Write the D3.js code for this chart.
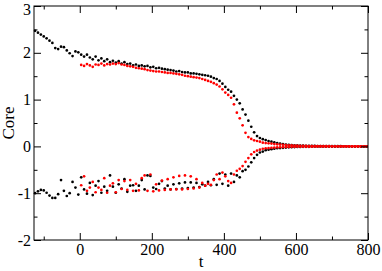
<!DOCTYPE html>
<html>
<head>
<meta charset="utf-8">
<script src="https://cdn.jsdelivr.net/npm/d3@7/dist/d3.min.js"></script>
<style>
  body { margin: 0; background: #fff; }
</style>
</head>
<body>
<script>
// sampling times (black starts before t=0, red starts at t=4)
var blackT = d3.range(-124, 800, 8)
var redT = d3.range(4, 800, 8)

var blackUpper = [2.47, 2.43, 2.39, 2.35, 2.31, 2.26, 2.21, 2.10, 2.08, 2.13, 2.12, 2.05, 1.99, 1.93, 2.03, 2.01,
  1.96, 1.92, 1.96, 1.90, 1.86, 1.92, 1.84, 1.88, 1.82, 1.86, 1.80, 1.83, 1.79, 1.82, 1.77, 1.80,
  1.76, 1.77, 1.73, 1.75, 1.72, 1.73, 1.71, 1.72, 1.69, 1.70, 1.67, 1.68, 1.66, 1.65, 1.64, 1.63,
  1.62, 1.60, 1.61, 1.59, 1.58, 1.58, 1.56, 1.56, 1.55, 1.54, 1.53, 1.52, 1.51, 1.49, 1.46, 1.44,
  1.40, 1.34, 1.27, 1.21, 1.17, 1.08, 1.00, 0.92, 0.79, 0.68, 0.55, 0.42, 0.30, 0.22, 0.18, 0.155,
  0.135, 0.115, 0.10, 0.085, 0.07, 0.06, 0.05, 0.04, 0.035, 0.03, 0.025, 0.02, 0.018, 0.015, 0.013, 0.012,
  0.01, 0.01, 0.008, 0.008, 0.007, 0.006, 0.006, 0.005, 0.005, 0.004, 0.004, 0.003, 0.003, 0.003, 0.002, 0.002,
  0.002, 0.002, 0.001, 0.001]

var blackLower = [-1.00, -0.96, -0.93, -0.94, -0.99, -1.05, -1.10, -1.10, -1.02, -0.72, -0.95, -1.06, -1.00, -0.76, -0.88, -1.03,
  -0.66, -0.92, -1.01, -0.78, -1.04, -0.84, -0.74, -0.99, -0.86, -0.95, -0.62, -0.86, -0.99, -0.81, -0.90, -0.70,
  -0.97, -0.84, -0.83, -0.95, -0.84, -0.72, -0.92, -0.62, -0.63, -0.88, -0.91, -0.80, -0.74, -0.90, -0.84, -0.92,
  -0.81, -0.91, -0.79, -0.90, -0.77, -0.89, -0.77, -0.88, -0.78, -0.87, -0.81, -0.84, -0.76, -0.83, -0.70, -0.82,
  -0.58, -0.80, -0.60, -0.84, -0.58, -0.76, -0.62, -0.66, -0.53, -0.50, -0.43, -0.34, -0.25, -0.18, -0.13, -0.11,
  -0.08, -0.07, -0.06, -0.05, -0.04, -0.035, -0.03, -0.025, -0.02, -0.018, -0.015, -0.013, -0.012, -0.01, -0.01, -0.009,
  -0.008, -0.007, -0.007, -0.006, -0.005, -0.005, -0.004, -0.004, -0.003, -0.003, -0.003, -0.002, -0.002, -0.002, -0.002, -0.001,
  -0.001, -0.001, -0.001, -0.001]

var redUpper = [1.74, 1.72, 1.76, 1.73, 1.70, 1.75, 1.74, 1.77, 1.73, 1.76, 1.75, 1.77, 1.76, 1.78, 1.75, 1.74,
  1.72, 1.71, 1.70, 1.68, 1.67, 1.66, 1.65, 1.63, 1.62, 1.61, 1.60, 1.60, 1.59, 1.58, 1.57, 1.57,
  1.56, 1.55, 1.54, 1.53, 1.51, 1.50, 1.49, 1.48, 1.47, 1.46, 1.44, 1.42, 1.40, 1.38, 1.35, 1.32,
  1.28, 1.22, 1.15, 1.10, 1.04, 0.90, 0.72, 0.60, 0.45, 0.29, 0.20, 0.16, 0.13, 0.115, 0.10, 0.08,
  0.07, 0.065, 0.06, 0.05, 0.045, 0.04, 0.035, 0.03, 0.025, 0.02, 0.018, 0.015, 0.013, 0.012, 0.01, 0.009,
  0.008, 0.007, 0.006, 0.006, 0.005, 0.004, 0.004, 0.003, 0.003, 0.003, 0.002, 0.002, 0.002, 0.002, 0.001, 0.001,
  0.001, 0.001, 0.001, 0.001]

var redLower = [-0.83, -0.64, -0.95, -0.88, -0.76, -0.98, -0.88, -0.93, -0.68, -0.99, -0.84, -0.79, -0.98, -0.72, -0.91, -0.74,
  -0.93, -0.72, -0.95, -0.80, -0.94, -0.68, -0.62, -0.95, -0.60, -0.96, -0.81, -0.94, -0.73, -0.93, -0.70, -0.92,
  -0.66, -0.92, -0.63, -0.92, -0.62, -0.91, -0.64, -0.90, -0.70, -0.88, -0.78, -0.84, -0.80, -0.82, -0.72, -0.60,
  -0.70, -0.56, -0.64, -0.74, -0.78, -0.60, -0.52, -0.48, -0.42, -0.33, -0.25, -0.17, -0.12, -0.09, -0.07, -0.05,
  -0.04, -0.035, -0.03, -0.025, -0.02, -0.018, -0.015, -0.013, -0.012, -0.01, -0.009, -0.008, -0.007, -0.006, -0.006, -0.005,
  -0.005, -0.004, -0.004, -0.003, -0.003, -0.003, -0.002, -0.002, -0.002, -0.002, -0.001, -0.001, -0.001, -0.001, -0.001, 0,
  0, 0, 0, 0]

var xMajor = [0, 200, 400, 600, 800]
var xMinor = [-100, 100, 300, 500, 700]
var yMajor = [-2, -1, 0, 1, 2, 3]
var yMinor = [-1.5, -0.5, 0.5, 1.5, 2.5]

var serif = "'Liberation Serif', 'DejaVu Serif', serif"

var margin = {top: 6, right: 14, bottom: 31, left: 34},
  width = 382 - margin.left - margin.right,
  height = 271 - margin.top - margin.bottom;

var x = d3.scaleLinear().domain([-127, 800]).range([0, width]);
var y = d3.scaleLinear().domain([-2, 3]).range([height, 0]);

var svg = d3.select("body").append("svg")
    .attr("width", 382)
    .attr("height", 271)
  .append("g")
    .attr("transform", "translate(" + margin.left + "," + margin.top + ")");

function pts(ts, vs) {
  return vs.map(function(v, i) { return {t: ts[i], v: v}; });
}

var series = [
  {color: "#000", data: pts(blackT, blackUpper)},
  {color: "#000", data: pts(blackT, blackLower)},
  {color: "#ff0000", data: pts(redT, redUpper)},
  {color: "#ff0000", data: pts(redT, redLower)}
];

series.forEach(function(s) {
  svg.append("g").selectAll("circle")
    .data(s.data)
    .enter().append("circle")
      .attr("cx", function(d) { return x(d.t); })
      .attr("cy", function(d) { return y(d.v); })
      .attr("r", 1.35)
      .style("fill", s.color);
});

// axes: ticks point inward on all four sides, no domain path (frame drawn below)
function axis(gen, tr) {
  var g = svg.append("g");
  if (tr) g.attr("transform", tr);
  g.call(gen);
  g.select(".domain").remove();
  g.attr("font-family", serif).attr("font-size", 16);
  g.selectAll(".tick line").attr("stroke", "#000");
  g.selectAll(".tick text").attr("fill", "#000")
    .text(function() { return this.textContent.replace("\u2212", "-"); });
  return g;
}

var bottom = "translate(0," + height + ")";
var right = "translate(" + width + ",0)";

axis(d3.axisBottom(x).tickValues(xMajor).tickSize(-7).tickPadding(4).tickFormat(d3.format("d")), bottom);
axis(d3.axisBottom(x).tickValues(xMinor).tickSize(-3.5).tickFormat(""), bottom);
axis(d3.axisTop(x).tickValues(xMajor).tickSize(-7).tickFormat(""));
axis(d3.axisTop(x).tickValues(xMinor).tickSize(-3.5).tickFormat(""));
var yAx = axis(d3.axisLeft(y).tickValues(yMajor).tickSize(-7).tickPadding(3).tickFormat(d3.format("d")));
axis(d3.axisLeft(y).tickValues(yMinor).tickSize(-3.5).tickFormat(""));
axis(d3.axisRight(y).tickValues(yMajor).tickSize(-7).tickFormat(""), right);
axis(d3.axisRight(y).tickValues(yMinor).tickSize(-3.5).tickFormat(""), right);

// top label sits a little lower so it stays inside the page
yAx.selectAll(".tick text").filter(function(d) { return d === 3; }).attr("y", 3);

// frame
svg.append("rect")
  .attr("width", width)
  .attr("height", height)
  .style("fill", "none")
  .style("stroke", "#000")
  .style("stroke-width", 1);

svg.append("text")
  .attr("x", width / 2)
  .attr("y", height + 27)
  .attr("text-anchor", "middle")
  .attr("font-family", serif)
  .attr("font-size", 17)
  .text("t");

svg.append("text")
  .attr("transform", "translate(" + (-20) + "," + (height / 2) + ") rotate(-90)")
  .attr("text-anchor", "middle")
  .attr("font-family", serif)
  .attr("font-size", 17)
  .text("Core");
</script>
</body>
</html>
